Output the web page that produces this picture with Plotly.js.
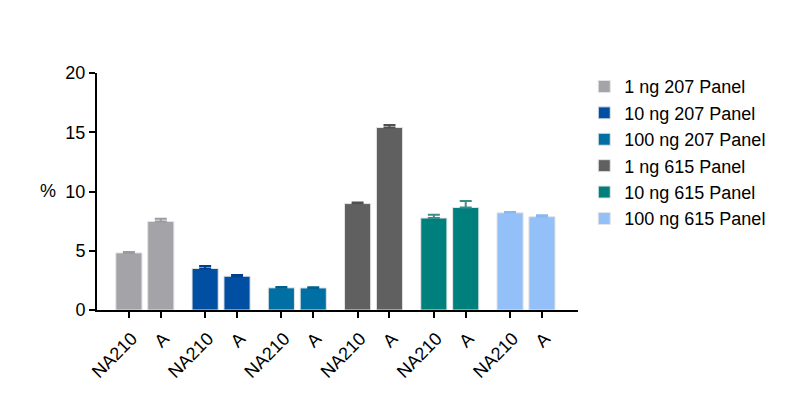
<!DOCTYPE html>
<html><head><meta charset="utf-8">
<script src="https://cdn.plot.ly/plotly-3.0.1.min.js"></script>
<style>html,body{margin:0;padding:0;background:#fff}#chart{width:795px;height:414px}</style>
</head><body><div id="chart"></div>
<script>
const seriesNames = ["1 ng 207 Panel","10 ng 207 Panel","100 ng 207 Panel","1 ng 615 Panel","10 ng 615 Panel","100 ng 615 Panel"];
const sampleLabels = ["NA210","A"];
const values = [[4.82,7.47],[3.5,2.85],[1.87,1.86],[8.98,15.4],[7.76,8.65],[8.2,7.87]];
const errors = [[0.08,0.22],[0.22,0.1],[0.07,0.07],[0.1,0.22],[0.28,0.55],[0.08,0.12]];
const colors = ["#a3a3a8","#004fa2","#006fa4","#606060","#00807d","#93c0f8"];
const errColors = ["#9a9aa0","#003f90","#005f90","#505050","#3d8d8b","#88b8f0"];

const groupStep = 2.39;
const traces = [];
const tickvals = [], ticktext = [];
seriesNames.forEach((name, g) => {
  const xs = sampleLabels.map((_, i) => g*groupStep + i);
  xs.forEach((x, i) => { tickvals.push(x); ticktext.push(sampleLabels[i]); });
  traces.push({
    type: "bar", name: name, x: xs, y: values[g], width: 0.82,
    marker: {color: colors[g], line: {color: "#e4e4e4", width: 1}},
    error_y: {type: "data", symmetric: false, array: errors[g], arrayminus: [0,0],
              color: errColors[g], thickness: 2, width: 6},
    hoverinfo: "skip"
  });
});

const font = {family: "Arial, 'Liberation Sans', sans-serif", color: "#000"};
const layout = {
  width: 795, height: 414,
  margin: {l: 97, r: 217, t: 73, b: 104},
  paper_bgcolor: "#fff", plot_bgcolor: "#fff",
  font: Object.assign({size: 18}, font),
  showlegend: true,
  legend: {x: 1.013, y: 1.02, xanchor: "left", yanchor: "top",
           font: Object.assign({size: 18}, font), tracegroupgap: 0, itemwidth: 30},
  bargap: 0,
  xaxis: {range: [-1, 14.08], showgrid: false, zeroline: false,
          showline: true, linecolor: "#000", linewidth: 2,
          tickmode: "array", tickvals: tickvals, ticktext: ticktext,
          tickangle: -45, ticks: "outside", ticklen: 6, tickwidth: 2, tickcolor: "#000",
          ticklabelstandoff: 3, ticklabelshift: 3,
          tickfont: Object.assign({size: 18}, font)},
  yaxis: {range: [0, 20], showgrid: false, zeroline: false,
          showline: true, linecolor: "#000", linewidth: 2,
          tickvals: [0,5,10,15,20], ticks: "outside", ticklen: 6, tickwidth: 2, tickcolor: "#000",
          tickfont: Object.assign({size: 18}, font)},
  annotations: [{text: "%", xref: "paper", yref: "paper", x: -0.102, y: 0.502,
                 xanchor: "center", yanchor: "middle", showarrow: false,
                 font: Object.assign({size: 18}, font)}]
};
Plotly.newPlot("chart", traces, layout, {staticPlot: true, displayModeBar: false});
</script></body></html>
